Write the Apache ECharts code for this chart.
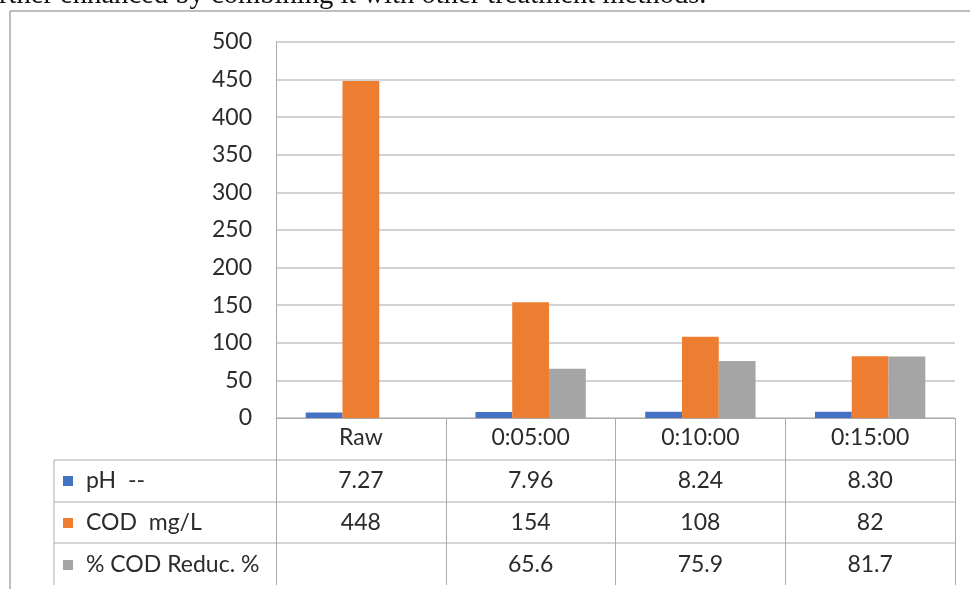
<!DOCTYPE html>
<html>
<head>
<meta charset="utf-8">
<script src="https://cdn.jsdelivr.net/npm/echarts@6/dist/echarts.min.js"></script>
<style>
html,body{margin:0;padding:0;background:#fff;}
#chart{width:970px;height:589px;}
</style>
</head>
<body>
<div id="chart"></div>
<script>
// ---- data ----
const categories = ['Raw', '0:05:00', '0:10:00', '0:15:00'];
const seriesNames = ['pH  --', 'COD  mg/L', '% COD Reduc. %'];
const phValues = [7.27, 7.96, 8.24, 8.30];
const codValues = [448, 154, 108, 82];
const reductionValues = [null, 65.6, 75.9, 81.7];
const phLabels = ['7.27', '7.96', '8.24', '8.30'];
const codLabels = ['448', '154', '108', '82'];
const reductionLabels = ['', '65.6', '75.9', '81.7'];
const yMin = 0, yMax = 500, yStep = 50;
const captionText = 'rther enhanced by combining it with other treatment methods.';

// ---- style ----
const colors = ['#4472C4', '#ED7D31', '#A5A5A5'];
const FONT = 'Lato, "Open Sans", sans-serif';
const FS = 23;
const TXT = '#2b2b2b';
const LINE = '#ababab';

const chart = echarts.init(document.getElementById('chart'), null, {renderer: 'canvas'});
const ROWH = 42;

const option = {
  animation: false,
  backgroundColor: '#fff',
  grid: {left: 276, right: 15, top: 42, bottom: 171, containLabel: false},
  xAxis: {
    type: 'category',
    data: categories,
    axisLine: {show: true, lineStyle: {color: LINE, width: 1}},
    axisTick: {show: true, length: ROWH * 4 - 1, lineStyle: {color: LINE, width: 1}},
    axisLabel: {show: true, margin: 20, verticalAlign: 'middle', fontFamily: FONT, fontSize: FS, color: TXT},
    splitLine: {show: false}
  },
  yAxis: {
    type: 'value',
    min: yMin, max: yMax, interval: yStep,
    axisLine: {show: true, lineStyle: {color: LINE, width: 1}},
    axisTick: {show: false},
    axisLabel: {margin: 24, fontFamily: FONT, fontSize: FS, color: TXT},
    splitLine: {show: true, lineStyle: {color: '#c4c4c4', width: 1.5}}
  },
  series: [
    {name: seriesNames[0], type: 'bar', data: phValues, itemStyle: {color: colors[0]}, barGap: '0%', barCategoryGap: '35%'},
    {name: seriesNames[1], type: 'bar', data: codValues, itemStyle: {color: colors[1]}, barGap: '0%', barCategoryGap: '35%'},
    {name: seriesNames[2], type: 'bar', data: reductionValues, itemStyle: {color: colors[2]}, barGap: '0%', barCategoryGap: '35%'}
  ]
};
chart.setOption(option);

// ---- data table & frame built from the arrays, positioned via the axes ----
const x0 = chart.convertToPixel({xAxisIndex: 0}, 0);
const x1 = chart.convertToPixel({xAxisIndex: 0}, 1);
const bandW = x1 - x0;
const leftAxisX = x0 - bandW / 2;
const rightX = leftAxisX + bandW * categories.length;
const baseY = chart.convertToPixel({yAxisIndex: 0}, 0);
const tableLeft = 54;

const rows = [
  {name: seriesNames[0], labels: phLabels, color: colors[0]},
  {name: seriesNames[1], labels: codLabels, color: colors[1]},
  {name: seriesNames[2], labels: reductionLabels, color: colors[2]}
];

const graphics = [];
// outer frame
graphics.push({type: 'line', shape: {x1: 10, y1: 11, x2: 970, y2: 11}, style: {stroke: '#a8a8a8', lineWidth: 1.5}, silent: true});
graphics.push({type: 'line', shape: {x1: 10, y1: 11, x2: 10, y2: 589}, style: {stroke: '#a8a8a8', lineWidth: 1.5}, silent: true});
// caption (cut off at the top)
graphics.push({type: 'text', x: -1, y: 10, style: {text: captionText, font: '28.6px "Liberation Serif", "DejaVu Serif", serif', fill: '#111', verticalAlign: 'bottom'}, silent: true});

// horizontal table lines
for (let r = 1; r <= rows.length; r++) {
  const y = baseY + ROWH * r - (r === rows.length ? 1 : 0);
  graphics.push({type: 'line', shape: {x1: tableLeft, y1: y, x2: rightX, y2: y}, style: {stroke: LINE, lineWidth: 1}, silent: true});
}
// left table border
graphics.push({type: 'line', shape: {x1: tableLeft, y1: baseY + ROWH, x2: tableLeft, y2: baseY + ROWH * 4 - 1}, style: {stroke: LINE, lineWidth: 1}, silent: true});

rows.forEach((row, r) => {
  const cy = baseY + ROWH * (r + 1) + ROWH / 2;
  graphics.push({type: 'rect', shape: {x: 63, y: cy - 5, width: 10, height: 10}, style: {fill: row.color}, silent: true});
  graphics.push({type: 'text', x: 86, y: cy, style: {text: row.name, font: FS + 'px ' + FONT, fill: TXT, verticalAlign: 'middle'}, silent: true});
  row.labels.forEach((lab, i) => {
    const cx = chart.convertToPixel({xAxisIndex: 0}, i);
    graphics.push({type: 'text', x: cx, y: cy, style: {text: lab, font: FS + 'px ' + FONT, fill: TXT, align: 'center', verticalAlign: 'middle'}, silent: true});
  });
});

chart.setOption({graphic: graphics});
</script>
</body>
</html>
